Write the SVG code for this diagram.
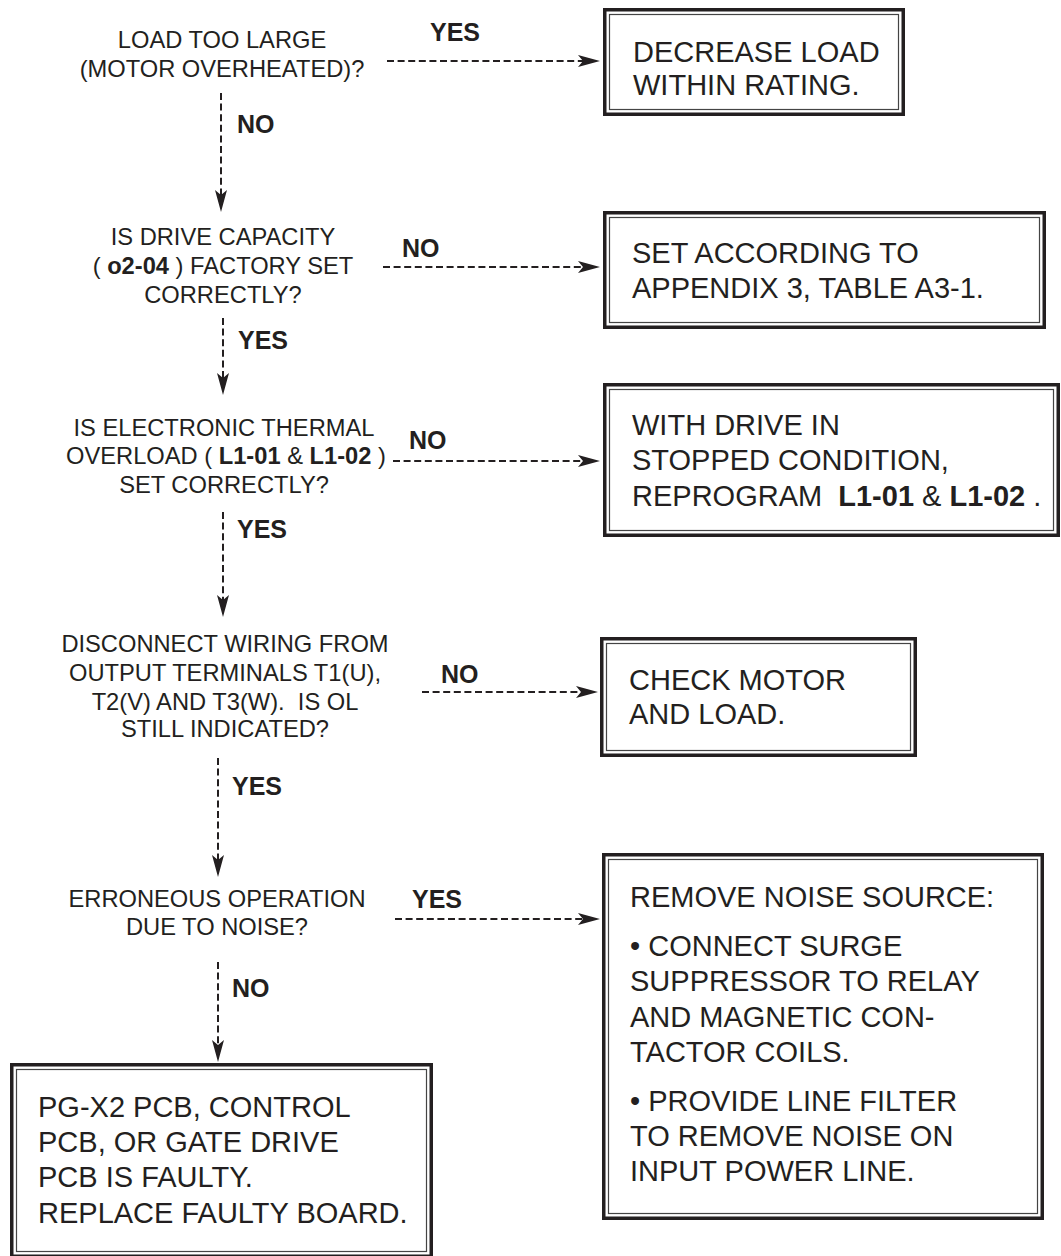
<svg xmlns="http://www.w3.org/2000/svg" width="1061" height="1256" viewBox="0 0 1061 1256">
<style>
text{font-family:"Liberation Sans",Arial,Helvetica,sans-serif;fill:#231f20}
.q{font-size:23.7px;text-anchor:middle}
.lbl{font-size:25px;font-weight:bold}
.bt{font-size:29px}
.b{font-weight:bold}
.outer{fill:#fff;stroke:#231f20;stroke-width:3.5}
.inner{fill:none;stroke:#444;stroke-width:1.2}
.conn{fill:none;stroke:#231f20;stroke-width:2;stroke-dasharray:7 3.6}
</style>
<defs>
<marker id="ah" markerUnits="userSpaceOnUse" markerWidth="24" markerHeight="14" refX="12" refY="6" orient="auto">
<path d="M0,0 L22,6 L0,12 L5,6 Z" fill="#231f20"/>
</marker>
</defs>
<rect width="1061" height="1256" fill="#fff"/>

<g id="connectors">
<line class="conn" x1="387" y1="61" x2="590" y2="61" marker-end="url(#ah)"/>
<line class="conn" x1="221" y1="93" x2="221" y2="202" marker-end="url(#ah)"/>
<line class="conn" x1="383" y1="267" x2="590" y2="267" marker-end="url(#ah)"/>
<line class="conn" x1="223" y1="318" x2="223" y2="385" marker-end="url(#ah)"/>
<line class="conn" x1="393" y1="461" x2="590" y2="461" marker-end="url(#ah)"/>
<line class="conn" x1="223" y1="512" x2="223" y2="607" marker-end="url(#ah)"/>
<line class="conn" x1="422" y1="692" x2="588" y2="692" marker-end="url(#ah)"/>
<line class="conn" x1="218" y1="758" x2="218" y2="867" marker-end="url(#ah)"/>
<line class="conn" x1="395" y1="919" x2="590" y2="919" marker-end="url(#ah)"/>
<line class="conn" x1="218" y1="962" x2="218" y2="1052" marker-end="url(#ah)"/>
<text class="lbl" x="430" y="41">YES</text>
<text class="lbl" x="237" y="133">NO</text>
<text class="lbl" x="402" y="257">NO</text>
<text class="lbl" x="238" y="349">YES</text>
<text class="lbl" x="409" y="449">NO</text>
<text class="lbl" x="237" y="538">YES</text>
<text class="lbl" x="441" y="683">NO</text>
<text class="lbl" x="232" y="795">YES</text>
<text class="lbl" x="412" y="908">YES</text>
<text class="lbl" x="232" y="997">NO</text>
</g>

<g id="q1">
<text class="q" x="222" y="48">LOAD TOO LARGE</text>
<text class="q" x="222" y="77">(MOTOR OVERHEATED)?</text>
</g>
<g id="q2">
<text class="q" x="223" y="245">IS DRIVE CAPACITY</text>
<text class="q" x="223" y="274">( <tspan class="b">o2-04</tspan> ) FACTORY SET</text>
<text class="q" x="223" y="303">CORRECTLY?</text>
</g>
<g id="q3">
<text class="q" x="224" y="436">IS ELECTRONIC THERMAL</text>
<text class="q" x="226" y="464">OVERLOAD ( <tspan class="b">L1-01</tspan> &amp; <tspan class="b">L1-02</tspan> )</text>
<text class="q" x="224" y="493">SET CORRECTLY?</text>
</g>
<g id="q4">
<text class="q" x="225" y="652">DISCONNECT WIRING FROM</text>
<text class="q" x="225" y="681">OUTPUT TERMINALS T1(U),</text>
<text class="q" x="225" y="710" xml:space="preserve">T2(V) AND T3(W).  IS OL</text>
<text class="q" x="225" y="737">STILL INDICATED?</text>
</g>
<g id="q5">
<text class="q" x="217" y="907">ERRONEOUS OPERATION</text>
<text class="q" x="217" y="935">DUE TO NOISE?</text>
</g>

<g id="box1">
<rect class="outer" x="604.75" y="9.75" width="298.5" height="104.5"/>
<rect class="inner" x="609.5" y="14.5" width="289" height="95"/>
<text class="bt" x="633" y="62">DECREASE LOAD</text>
<text class="bt" x="633" y="95">WITHIN RATING.</text>
</g>
<g id="box2">
<rect class="outer" x="604.75" y="212.75" width="439.5" height="114.5"/>
<rect class="inner" x="609.5" y="217.5" width="430" height="105"/>
<text class="bt" x="632" y="263">SET ACCORDING TO</text>
<text class="bt" x="632" y="298">APPENDIX 3, TABLE A3-1.</text>
</g>
<g id="box3">
<rect class="outer" x="604.75" y="384.75" width="453.5" height="150.5"/>
<rect class="inner" x="609.5" y="389.5" width="444" height="141"/>
<text class="bt" x="632" y="435">WITH DRIVE IN</text>
<text class="bt" x="632" y="470">STOPPED CONDITION,</text>
<text class="bt" x="632" y="506" xml:space="preserve">REPROGRAM  <tspan class="b">L1-01</tspan> &amp; <tspan class="b">L1-02</tspan> .</text>
</g>
<g id="box4">
<rect class="outer" x="601.75" y="638.75" width="313.5" height="116.5"/>
<rect class="inner" x="606.5" y="643.5" width="304" height="107"/>
<text class="bt" x="629" y="690">CHECK MOTOR</text>
<text class="bt" x="629" y="724">AND LOAD.</text>
</g>
<g id="box5">
<rect class="outer" x="603.75" y="854.75" width="438.5" height="363.5"/>
<rect class="inner" x="608.5" y="859.5" width="429" height="354"/>
<text class="bt" x="630" y="907">REMOVE NOISE SOURCE:</text>
<text class="bt" x="630" y="956">• CONNECT SURGE</text>
<text class="bt" x="630" y="991">SUPPRESSOR TO RELAY</text>
<text class="bt" x="630" y="1027">AND MAGNETIC CON-</text>
<text class="bt" x="630" y="1062">TACTOR COILS.</text>
<text class="bt" x="630" y="1111">• PROVIDE LINE FILTER</text>
<text class="bt" x="630" y="1146">TO REMOVE NOISE ON</text>
<text class="bt" x="630" y="1181">INPUT POWER LINE.</text>
</g>
<g id="box6">
<rect class="outer" x="11.75" y="1064.75" width="419.5" height="191.5"/>
<rect class="inner" x="16.5" y="1069.5" width="410" height="182"/>
<text class="bt" x="38" y="1117">PG-X2 PCB, CONTROL</text>
<text class="bt" x="38" y="1152">PCB, OR GATE DRIVE</text>
<text class="bt" x="38" y="1187">PCB IS FAULTY.</text>
<text class="bt" x="38" y="1223">REPLACE FAULTY BOARD.</text>
</g>
</svg>
